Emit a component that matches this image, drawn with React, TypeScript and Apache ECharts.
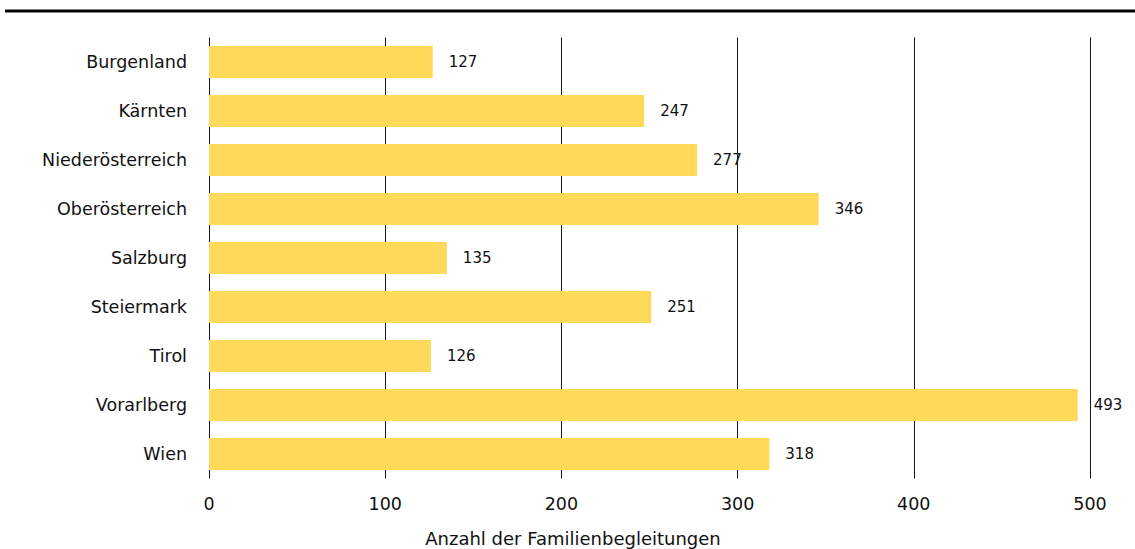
import React, { useEffect, useRef } from "react";
import * as echarts from "echarts";

const categories = [
  "Burgenland",
  "Kärnten",
  "Niederösterreich",
  "Oberösterreich",
  "Salzburg",
  "Steiermark",
  "Tirol",
  "Vorarlberg",
  "Wien",
];
const values = [127, 247, 277, 346, 135, 251, 126, 493, 318];
const axisName = "Anzahl der Familienbegleitungen";

const FONT = "DejaVu Sans";

export default function App() {
  const ref = useRef<HTMLDivElement>(null);
  useEffect(() => {
    if (!ref.current) return;
    const chart = echarts.init(ref.current, undefined, { renderer: "svg" });
    chart.setOption({
      animation: false,
      backgroundColor: "#ffffff",
      grid: { left: 209, right: 45, top: 37.5, bottom: 70.5 },
      xAxis: {
        type: "value",
        min: 0,
        max: 500,
        interval: 100,
        axisLine: { show: false },
        axisTick: { show: false },
        axisLabel: {
          color: "#111",
          fontFamily: FONT,
          fontSize: 17.5,
          margin: 16,
        },
        splitLine: { show: true, lineStyle: { color: "#111", width: 1 } },
      },
      yAxis: {
        type: "category",
        data: categories,
        inverse: true,
        axisLine: { show: false },
        axisTick: { show: false },
        axisLabel: {
          color: "#111",
          fontFamily: FONT,
          fontSize: 17.5,
          margin: 22,
          padding: [0, 0, 4, 0],
        },
      },
      graphic: [
        {
          type: "rect",
          shape: { x: 5, y: 9.5, width: 1130, height: 3 },
          style: { fill: "#000" },
        },
        {
          type: "text",
          x: 573,
          y: 538,
          style: {
            text: axisName,
            fontFamily: FONT,
            fontSize: 18,
            fill: "#111",
            textAlign: "center",
            textVerticalAlign: "middle",
          },
        },
      ],
      series: [
        {
          type: "bar",
          data: values,
          barWidth: 32,
          itemStyle: { color: "#FFD95A" },
          label: {
            show: true,
            position: "right",
            distance: 16,
            color: "#111",
            fontFamily: FONT,
            fontSize: 15,
          },
        },
      ],
    });
    return () => chart.dispose();
  }, []);
  return (
    <div
      ref={ref}
      style={{ position: "fixed", left: 0, top: 0, width: 1135, height: 549 }}
    />
  );
}
